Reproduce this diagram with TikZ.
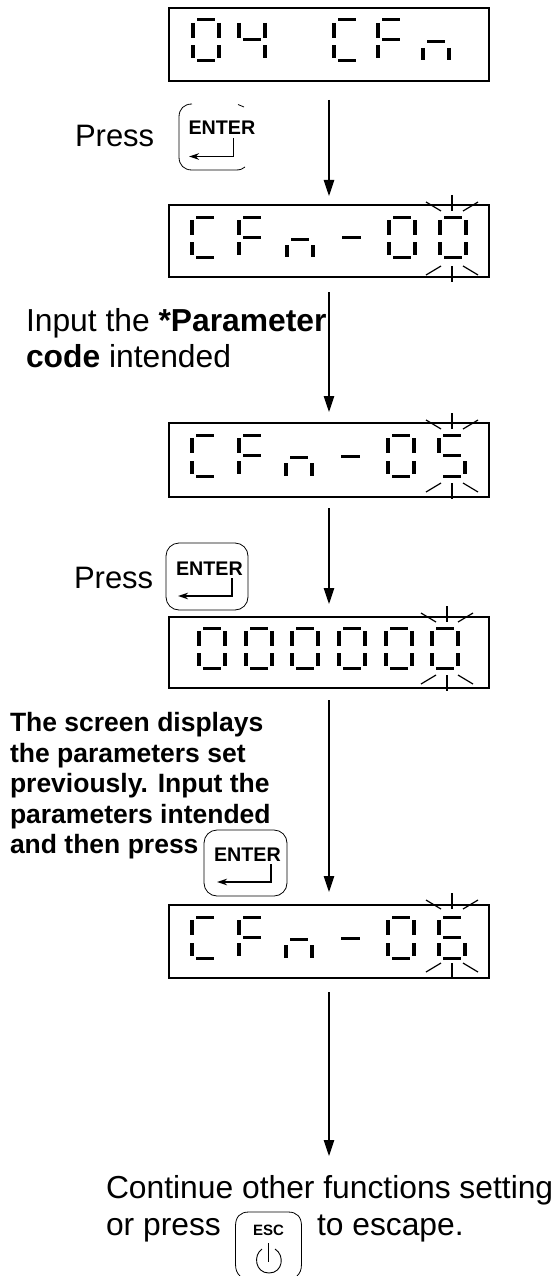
\documentclass[tikz,border=0pt]{standalone}
\usepackage{fontspec}
\setmainfont{Liberation Sans}
\usetikzlibrary{arrows.meta}
\tikzset{
  x=1pt,y=-1pt,
  lcdbox/.style={draw=black,line width=1.7pt,fill=none,inner sep=0pt,outer sep=0pt,minimum width=320pt,anchor=north west},
  flow/.style={line width=1.1pt,-{Triangle[width=10.5pt,length=16pt]}},
  sv/.style={line width=3.7pt},
  sh/.style={line width=3pt},
  ray/.style={line width=1.2pt},
  txt/.style={inner sep=0pt,outer sep=0pt,anchor=base west,font=\fontsize{31.8}{36}\selectfont},
  ptxt/.style={inner sep=0pt,outer sep=0pt,anchor=base west,font=\fontsize{31}{36}\selectfont},
  btxt/.style={inner sep=0pt,outer sep=0pt,anchor=base west,font=\fontsize{26.5}{30.5}\selectfont\bfseries},
  keyl/.style={inner sep=0pt,outer sep=0pt,anchor=base west,font=\fontsize{19.7}{21}\selectfont\bfseries},
  keybox/.style={draw=black,line width=.8pt,rounded corners=13pt,inner sep=0pt,outer sep=0pt,anchor=north west},
  keyline/.style={line width=.8pt},
  keyarrow/.style={line width=1.8pt,-{Stealth[width=6.5pt,length=10pt]}},
}
\newcommand{\sA}[2]{\draw[sh] (#1+4,#2) -- +(18,0);}
\newcommand{\sG}[2]{\draw[sh] (#1+4,#2) -- +(18,0);}
\newcommand{\sD}[2]{\draw[sh] (#1+4,#2) -- +(18,0);}
\newcommand{\sF}[2]{\draw[sv] (#1,#2+3) -- +(0,15);}
\newcommand{\sE}[2]{\draw[sv] (#1,#2-15) -- +(0,13);}
\newcommand{\sB}[2]{\draw[sv] (#1+26,#2+3) -- +(0,15);}
\newcommand{\sC}[2]{\draw[sv] (#1+26,#2-15) -- +(0,13);}
\newcommand{\dZero}[3]{\sA{#1}{#2}\sF{#1}{#2}\sB{#1}{#2}\sE{#1}{#3}\sC{#1}{#3}\sD{#1}{#3}}
\newcommand{\dC}[3]{\sA{#1}{#2}\sF{#1}{#2}\sE{#1}{#3}\sD{#1}{#3}}
\newcommand{\dF}[3]{\sA{#1}{#2}\sF{#1}{#2}\sE{#1}{#3}\sG{#1}{#2+20}}
\newcommand{\dN}[3]{\sG{#1}{#2+22}\draw[sv] (#1,#2+28) -- (#1,#3);\draw[sv] (#1+26,#2+28) -- (#1+26,#3);}
\newcommand{\dFour}[3]{\sF{#1}{#2}\sB{#1}{#2}\sG{#1}{#2+20}\sC{#1}{#3}}
\newcommand{\dFive}[3]{\sA{#1}{#2}\sF{#1}{#2}\sG{#1}{#2+20}\sC{#1}{#3}\sD{#1}{#3}}
\newcommand{\dSix}[3]{\sA{#1}{#2}\sF{#1}{#2}\sG{#1}{#2+20}\sE{#1}{#3}\sC{#1}{#3}\sD{#1}{#3}}
\newcommand{\dDash}[2]{\draw[sh] (#1,#2) -- +(19,0);}
\newcommand{\flash}[3]{%
  \draw[ray] (#1,#2-22) -- (#1,#2-6);
  \draw[ray] (#1-26,#2-15) -- (#1-11,#2-6);
  \draw[ray] (#1+26,#2-15) -- (#1+11,#2-6);
  \draw[ray] (#1,#3+7) -- (#1,#3+23);
  \draw[ray] (#1-26,#3+16) -- (#1-11,#3+7);
  \draw[ray] (#1+26,#3+16) -- (#1+11,#3+7);
}
\begin{document}
\begin{tikzpicture}
\useasboundingbox (0,0) rectangle (558,1276);
\node[lcdbox,minimum height=73pt] (b1) at (169,8) {};
\node[lcdbox,minimum height=72pt] (b2) at (169,205) {};
\node[lcdbox,minimum height=74pt] (b3) at (169,423) {};
\node[lcdbox,minimum height=71pt] (b4) at (169,617) {};
\node[lcdbox,minimum height=73pt] (b5) at (169,905) {};
\dZero{193}{20}{60.5}\dFour{239}{20}{60.5}\dC{334}{20}{60.5}\dF{378}{20}{60.5}\dN{423}{20}{60.5}
\dC{192}{217}{257}\dF{239}{217}{257}\dN{287}{217}{257}\dDash{342}{237}\dZero{389}{217}{257}\dZero{440}{217}{257}
\flash{452}{217}{259}
\dC{192}{435}{476}\dF{239}{435}{476}\dN{286}{435}{476}\dDash{341}{456}\dZero{388}{435}{476}\dFive{439}{435}{476}
\flash{452}{435}{476}
\dZero{199}{628}{668}\dZero{246}{628}{668}\dZero{292}{628}{668}\dZero{339}{628}{668}\dZero{386}{628}{668}\dZero{432}{628}{668}
\flash{447}{628}{668}
\dC{192}{917}{958}\dF{239}{917}{958}\dN{286}{917}{958}\dDash{341}{938}\dZero{388}{917}{958}\dSix{439}{917}{958}
\flash{452}{915}{956}
\coordinate (end5) at (329,1156);
\draw[flow,shorten <=19pt,shorten >=9pt] (b1.south) -- (b2.north);
\draw[flow,shorten <=15pt,shorten >=11pt] (b2.south) -- (b3.north);
\draw[flow,shorten <=11pt,shorten >=13pt] (b3.south) -- (b4.north);
\draw[flow,shorten <=12pt,shorten >=13pt] (b4.south) -- (b5.north);
\draw[flow,shorten <=14pt] (b5.south) -- (end5);
\node[ptxt] (t1) at (75,147) {Press};
\node[txt] (t2a) at (26,331) {Input the \textbf{*Parameter}};
\node[txt] (t2b) at (26,367) {\textbf{code} intended};
\node[ptxt] (t3) at (74,588) {Press};
\node[btxt] (t4a) at (10,731) {The screen displays};
\node[btxt] (t4b) at (10,762) {the parameters set};
\node[btxt] (t4c) at (10,792) {previously. Input the};
\node[btxt] (t4d) at (10,823) {parameters intended};
\node[btxt] (t4e) at (10,853) {and then press};
\node[txt] (t5a) at (106,1198) {Continue other functions setting};
\node[txt] (t5b) at (106,1235) {or press};
\node[txt] (t5c) at (317,1235) {to escape.};
\draw[keyline] (192,104) .. controls (184,104) and (179,109) .. (179,117) -- (179,157) .. controls (179,165) and (184,170) .. (192,170) -- (236,170) .. controls (240,170) and (243,169) .. (245,167);
\draw[keyline] (238,104.5) -- (244,107);
\node[keyl] (k1) at (188.5,134.5) {ENTER};
\coordinate (k1a) at (233.5,138); \coordinate (k1b) at (233.5,156.5); \coordinate (k1c) at (189,156.5);
\draw[keyarrow] (k1a) -- (k1b) -- (k1c);
\node[keybox,minimum width=82pt,minimum height=67pt] (kb2) at (166,543) {};
\node[keyl] (k2) at (176,575) {ENTER};
\coordinate (k2a) at (232,578); \coordinate (k2b) at (232,596); \coordinate (k2c) at (178,596);
\draw[keyarrow] (k2a) -- (k2b) -- (k2c);
\node[keybox,minimum width=83pt,minimum height=66pt] (kb3) at (204,830) {};
\node[keyl] (k3) at (214,861) {ENTER};
\coordinate (k3a) at (271,864); \coordinate (k3b) at (271,882); \coordinate (k3c) at (217,882);
\draw[keyarrow] (k3a) -- (k3b) -- (k3c);
\draw[keyline] (240,1276) .. controls (237,1273) and (235.5,1270) .. (235.5,1264) -- (235.5,1226) .. controls (235.5,1217) and (240,1212) .. (249,1212) -- (288,1212) .. controls (297,1212) and (301.5,1217) .. (301.5,1226) -- (301.5,1264) .. controls (301.5,1270) and (300,1273) .. (297,1276);
\node[inner sep=0pt,outer sep=0pt,anchor=base west,font=\fontsize{15}{15}\selectfont\bfseries] (k4) at (253,1235.5) {ESC};
\coordinate (pwrtop) at (268.5,1243); \coordinate (pwrmid) at (268.5,1262);
\draw[line width=.9pt] (pwrtop) -- (pwrmid);
\draw[line width=.9pt] (262,1249) .. controls (253,1255) and (255,1273) .. (269,1273) .. controls (283,1273) and (285,1255) .. (275,1249);
\end{tikzpicture}
\end{document}
